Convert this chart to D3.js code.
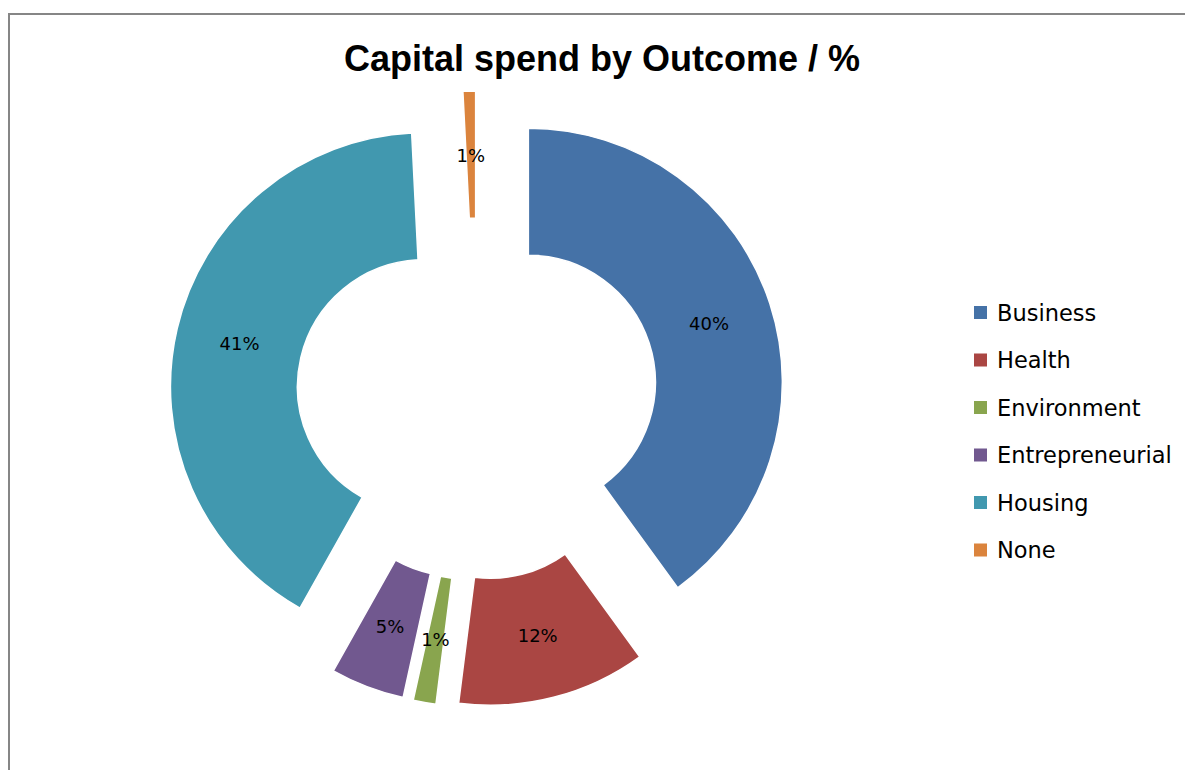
<!DOCTYPE html>
<html>
<head>
    <title>Capital spend by Outcome</title>
    <script src="https://cdn.jsdelivr.net/npm/d3@7"></script>
    <style>
    body { margin: 0; background: #fff; }
    .slice { stroke: #fff; stroke-width: 1.5; }
    .lbl { font-family: "DejaVu Sans", sans-serif; font-size: 18px; fill: #000; }
    .leg { font-family: "DejaVu Sans", sans-serif; font-size: 22.5px; fill: #000; }
    .title { font-family: "Liberation Sans", Arial, sans-serif; font-weight: bold; font-size: 36px; fill: #000; }
    </style>
</head>
<body>
<div id="chart"></div>
<script>
    // outcome categories, values (percent of capital spend)
    var categories = ["Business", "Health", "Environment", "Entrepreneurial", "Housing", "None"];
    var values = [40, 12, 1.45, 4.7, 41.05, 0.8];
    var colors = ["#4572A7", "#AA4643", "#89A54E", "#71588F", "#4198AF", "#DB843D"];

    var w = 1185, h = 770;
    var cx = 477, cy = 399;       // unexploded centre of the doughnut
    var rOut = 254, rIn = 127;    // 50% hole
    var explode = 54;             // every slice pushed out along its mid angle

    var svg = d3.select("#chart")
        .append("svg")
        .attr("width", w)
        .attr("height", h);

    // chart area border (runs off the right and bottom of the picture)
    svg.append("rect")
        .attr("x", 9)
        .attr("y", 14)
        .attr("width", 1300)
        .attr("height", 900)
        .attr("fill", "none")
        .attr("stroke", "#868686")
        .attr("stroke-width", 2);

    svg.append("text")
        .attr("class", "title")
        .attr("x", 602)
        .attr("y", 71)
        .attr("text-anchor", "middle")
        .text("Capital spend by Outcome / %");

    var total = d3.sum(values);
    var data = categories.map(function(c, i) { return {name: c, value: values[i], color: colors[i]}; });

    var pie = d3.pie()
        .sort(null)
        .value(function(d) { return d.value; });

    var arc = d3.arc()
        .innerRadius(rIn)
        .outerRadius(rOut);

    var labelArc = d3.arc()
        .innerRadius(190)
        .outerRadius(190);

    function shift(d) {
        var a = (d.startAngle + d.endAngle) / 2;
        return [Math.sin(a) * explode, -Math.cos(a) * explode];
    }

    var g = svg.append("g")
        .attr("transform", "translate(" + cx + "," + cy + ")");

    var slices = g.selectAll("g.s")
        .data(pie(data))
        .enter()
        .append("g")
        .attr("class", "s")
        .attr("transform", function(d) { return "translate(" + shift(d) + ")"; });

    slices.append("path")
        .attr("class", "slice")
        .attr("d", arc)
        .attr("fill", function(d) { return d.data.color; });

    slices.append("text")
        .attr("class", "lbl")
        .attr("transform", function(d) { return "translate(" + labelArc.centroid(d) + ")"; })
        .attr("text-anchor", "middle")
        .attr("dy", "0.36em")
        .text(function(d) { return Math.round(d.data.value / total * 100) + "%"; });

    // legend
    var ly = d3.scalePoint()
        .domain(categories)
        .range([313, 550.5]);

    var leg = svg.selectAll("g.leg")
        .data(data)
        .enter()
        .append("g")
        .attr("transform", function(d) { return "translate(974," + ly(d.name) + ")"; });

    leg.append("rect")
        .attr("x", 0)
        .attr("y", -7)
        .attr("width", 13)
        .attr("height", 13)
        .attr("fill", function(d) { return d.color; });

    leg.append("text")
        .attr("class", "leg")
        .attr("x", 23)
        .attr("y", 7.5)
        .text(function(d) { return d.name; });
</script>
</body>
</html>
